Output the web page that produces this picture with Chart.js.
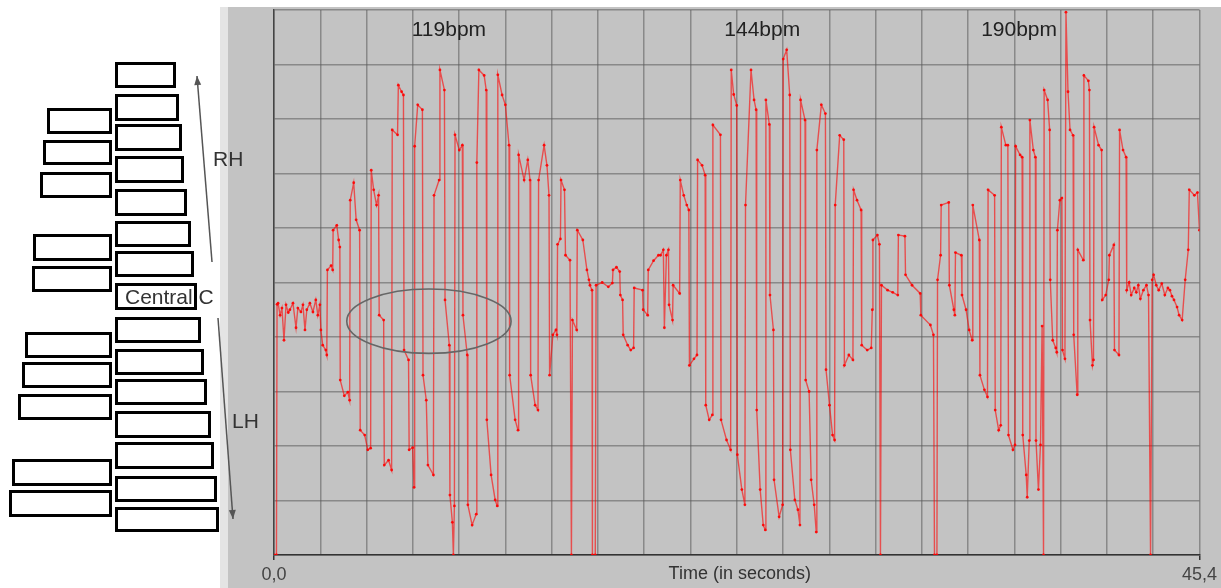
<!DOCTYPE html>
<html><head><meta charset="utf-8">
<script src="https://cdn.jsdelivr.net/npm/chart.js@4.4.0/dist/chart.umd.min.js"></script>
<style>html,body{margin:0;padding:0;background:#fff;overflow:hidden}#wrap{width:1221px;height:588px;position:relative}</style>
</head><body><div id="wrap"><canvas id="c" width="1221" height="588"></canvas></div>
<script>
// ---- axis / labels ----
const X_MIN = 0, X_MAX = 45.4, X_STEP = 2.27;
const Y_MIN = 0, Y_MAX = 10, Y_STEP = 1;
const xTickLabels = ['0,0', '45,4'];
const xTitle = 'Time (in seconds)';
const bpmLabels = ['119bpm', '144bpm', '190bpm'];
const bpmLabelTimes = [8.58, 23.95, 36.55];
const handLabels = ['RH', 'Central C', 'LH'];
const circledRegion = { t: 7.60, v: 4.29, dt: 4.03, dv: 0.59 };

// ---- series: [time (s), pitch position] ----
const intro = [[0.00,0.00],[0.12,0.00],[0.15,4.60],[0.20,4.62],[0.30,4.40],[0.39,4.53],[0.49,3.94],[0.59,4.59],[0.70,4.45],[0.78,4.50],[0.93,4.62],[1.08,4.17],[1.17,4.53],[1.32,4.46],[1.42,4.59],[1.52,4.13],[1.61,4.50],[1.76,4.62],[1.91,4.46],[2.05,4.68],[2.15,4.40],[2.25,4.59]];
const bpm119 = [[2.30,4.13],[2.39,3.85],[2.54,3.76],[2.59,3.67],
 [2.62,5.23],[2.80,5.31],[2.88,5.23],
 [2.90,5.96],[3.08,6.05],[3.17,5.78],[3.23,5.65],
 [3.25,3.21],[3.45,2.92],[3.62,2.99],[3.71,2.84],
 [3.74,6.51],[3.91,6.83],[4.03,6.15],[4.20,5.96],
 [4.23,2.29],[4.45,2.20],[4.60,1.93],[4.74,1.96],
 [4.77,7.06],[4.89,6.70],[5.03,6.42],[5.13,6.60],
 [5.16,4.40],[5.38,4.31],
 [5.41,1.65],[5.62,1.74],[5.77,1.56],
 [5.80,7.80],[6.06,7.71],[6.10,8.62],[6.26,8.50],[6.35,8.44],
 [6.38,3.76],[6.60,3.58],
 [6.63,1.93],[6.80,1.97],[6.87,1.24],
 [6.90,7.50],[7.05,8.26],[7.28,8.17],
 [7.31,3.30],[7.47,2.84],[7.55,1.65],[7.82,1.47],
 [7.85,6.60],[8.10,6.88],[8.14,8.90],[8.36,8.53],
 [8.39,4.68],[8.60,3.85],
 [8.63,1.10],[8.75,0.60],[8.80,0.00],[8.85,0.90],
 [8.88,7.71],[9.09,7.43],[9.24,7.52],
 [9.27,4.40],[9.48,3.67],
 [9.51,0.92],[9.72,0.55],[9.92,0.75],
 [9.95,7.20],[10.05,8.90],[10.31,8.80],[10.41,8.53],
 [10.44,2.48],[10.65,1.47],[10.85,1.01],[10.95,0.90],
 [10.98,8.81],[11.19,8.44],[11.35,8.26],[11.53,7.52],
 [11.56,3.30],[11.83,2.48],[11.97,2.29],
 [12.00,7.34],[12.27,6.88],[12.45,7.25],[12.56,6.88],
 [12.59,3.30],[12.81,2.75],[12.95,2.66],
 [12.98,6.88],[13.25,7.52],[13.39,7.15],[13.49,6.60],
 [13.52,3.30],[13.68,4.04],[13.83,4.13],[13.88,4.04],
 [13.91,5.70],[14.05,5.80],[14.08,6.88],[14.25,6.70],[14.30,5.50],[14.52,5.41],
 [14.59,0.00],[14.64,4.31],[14.85,4.13],
 [14.88,5.96],[15.15,5.78],[15.35,5.23],[15.45,5.05],
 [15.50,4.95],[15.60,4.86]];
const interlude1 = [[15.62,0.00],[15.76,0.00],[15.80,4.95],[16.10,5.00],[16.40,4.92],[16.60,4.99],
 [16.63,5.23],[16.80,5.28],[16.96,5.20],
 [16.99,4.77],[17.10,4.68],
 [17.13,4.04],[17.35,3.85],[17.50,3.76],[17.64,3.80],
 [17.67,4.90],[18.08,4.86],
 [18.11,4.50],[18.33,4.40],
 [18.36,5.23],[18.62,5.40],[18.86,5.50],
 [18.96,5.50],[19.10,5.60],[19.15,4.17],[19.25,5.50],[19.35,5.60],
 [19.38,4.59],[19.55,4.31],
 [19.58,4.95],[19.90,4.80]];
const bpm144 = [[19.93,6.88],[20.10,6.60],[20.25,6.42],[20.35,6.33],
 [20.38,3.48],[20.60,3.60],[20.75,3.67],
 [20.78,7.25],[21.00,7.15],[21.15,6.97],
 [21.18,2.75],[21.35,2.48],[21.50,2.57],
 [21.53,7.89],[21.90,7.71],
 [21.93,2.48],[22.20,2.11],[22.40,1.93],
 [22.43,8.90],[22.55,8.45],[22.70,8.25],
 [22.73,1.84],[22.95,1.20],[23.10,0.92],
 [23.13,6.42],[23.40,8.90],[23.55,8.35],[23.65,8.17],
 [23.68,2.66],[23.85,1.20],[24.00,0.55],[24.10,0.46],
 [24.13,8.35],[24.30,7.90],
 [24.33,4.77],[24.50,4.13],
 [24.53,1.38],[24.78,0.70],[24.95,0.92],
 [24.98,9.10],[25.15,9.27],[25.30,8.44],
 [25.33,1.93],[25.55,1.01],[25.70,0.83],[25.80,0.55],
 [25.83,8.35],[26.05,7.98],
 [26.08,3.21],[26.25,3.00],[26.35,1.38],[26.50,0.92],[26.60,0.42],
 [26.63,7.43],[26.85,8.26],[27.05,8.10],
 [27.08,3.40],[27.25,2.75],[27.40,2.20],[27.50,2.11],
 [27.53,6.42],[27.75,7.70],[27.95,7.62],
 [27.98,3.48],[28.20,3.67],[28.40,3.58],
 [28.43,6.70],[28.60,6.51],[28.80,6.33],
 [28.83,3.85],[29.10,3.76],[29.30,3.80],[29.35,4.50],
 [29.38,5.78],[29.60,5.87],[29.70,5.70]];
const interlude2 = [[29.75,0.00],[29.80,4.95],[30.10,4.86],[30.35,4.82],[30.60,4.77],
 [30.63,5.87],[30.95,5.85],
 [30.98,5.14],[31.30,4.95],[31.70,4.80],
 [31.73,4.40],[32.20,4.22],[32.35,4.04],
 [32.40,0.00],[32.52,0.00],[32.55,5.05],[32.70,5.50],
 [32.73,6.42],[33.10,6.47],
 [33.13,4.95],[33.35,4.50],[33.40,4.40],
 [33.43,5.55],[33.72,5.50],
 [33.75,4.77],[33.95,4.50],[34.10,4.13],[34.25,3.94]];
const bpm190 = [[34.28,6.42],[34.60,5.78],
 [34.63,3.30],[34.85,3.03],[35.00,2.90],
 [35.03,6.70],[35.35,6.60],
 [35.38,2.66],[35.55,2.29],[35.65,2.38],
 [35.68,7.85],[35.90,7.52],[36.00,7.52],
 [36.03,2.20],[36.25,1.93],[36.35,2.02],
 [36.38,7.50],[36.60,7.34],[36.70,7.30],
 [36.73,2.20],[36.90,1.47],[36.95,1.06],[37.05,2.10],
 [37.08,7.98],[37.25,7.43],[37.35,7.30],
 [37.38,2.10],[37.50,1.20],[37.60,2.02],[37.68,4.20],[37.75,0.00],
 [37.78,8.53],[37.95,8.35],[38.05,7.80],
 [38.08,5.05],[38.20,3.94],[38.35,3.80],[38.40,3.72],
 [38.43,5.96],[38.55,6.51],[38.65,6.55],
 [38.68,3.76],[38.80,3.60],
 [38.85,9.96],[38.95,8.50],[39.05,7.80],[39.20,7.70],
 [39.23,4.04],[39.40,2.94],
 [39.43,5.60],[39.70,5.41],
 [39.73,8.80],[39.95,8.70],[40.00,8.53],
 [40.03,4.31],[40.15,3.48],[40.20,3.58],
 [40.23,7.85],[40.45,7.52],[40.60,7.43],
 [40.63,4.68],[40.80,4.77],[40.95,5.05],
 [40.98,5.50],[41.20,5.69],
 [41.23,3.76],[41.45,3.67],
 [41.48,7.80],[41.65,7.43],[41.80,7.30]];
const outro = [[41.83,4.86],[41.95,5.00],[42.05,4.77],[42.20,4.90],[42.30,4.82],[42.40,4.95],[42.50,4.70],
 [42.65,4.86],[42.80,4.95],[42.90,4.77],
 [43.00,0.00],[43.08,5.05],
 [43.15,5.14],[43.28,4.95],[43.40,4.86],[43.55,4.98],[43.70,4.77],[43.85,4.90],[43.95,4.86],[44.05,4.75],[44.15,4.68],
 [44.30,4.55],[44.40,4.40],[44.55,4.31],
 [44.70,5.05],[44.85,5.60],
 [44.90,6.70],[45.15,6.60],[45.30,6.65],[45.40,5.96]];

const segments = [intro, bpm119, interlude1, bpm144, interlude2, bpm190, outro];
const points = [];
segments.forEach(seg => seg.forEach(([t, v]) => points.push({ x: t, y: v })));

const FONT = "'Liberation Sans', Arial, Helvetica, sans-serif";
Chart.defaults.font.family = FONT;

const KEYS_RIGHT = [[115,62,176,88],[115,94,179,121],[115,124,182,151],[115,156,184,183],[115,189,187,216],[115,221,191,247],[115,251,194,277],[115,283,197,310],[115,317,201,343],[115,349,204,375],[115,379,207,405],[115,411,211,438],[115,442,214,469],[115,476,217,502],[115,507,219,532]];
const KEYS_LEFT = [[47,108,112,134],[43,140,112,165],[40,172,112,198],[33,234,112,261],[32,266,112,292],[25,332,112,358],[22,362,112,388],[18,394,112,420],[12,459,112,486],[9,490,112,517]];

function arrow(ctx, x1, y1, x2, y2) {
  ctx.beginPath(); ctx.moveTo(x1, y1); ctx.lineTo(x2, y2); ctx.stroke();
  const a = Math.atan2(y2 - y1, x2 - x1), L = 9, W = 3.5;
  ctx.beginPath();
  ctx.moveTo(x2, y2);
  ctx.lineTo(x2 - L * Math.cos(a) + W * Math.sin(a), y2 - L * Math.sin(a) - W * Math.cos(a));
  ctx.lineTo(x2 - L * Math.cos(a) - W * Math.sin(a), y2 - L * Math.sin(a) + W * Math.cos(a));
  ctx.closePath(); ctx.fill();
}

const decor = {
  id: 'decor',
  beforeDraw(chart) {
    const ctx = chart.ctx;
    ctx.save();
    ctx.fillStyle = '#ffffff'; ctx.fillRect(0, 0, 1221, 588);
    ctx.fillStyle = '#e4e4e4'; ctx.fillRect(220, 7, 8, 581);
    ctx.fillStyle = '#c3c3c3'; ctx.fillRect(228, 7, 993, 581);
    ctx.lineWidth = 3; ctx.strokeStyle = '#000';
    for (const [x1, y1, x2, y2] of KEYS_LEFT.concat(KEYS_RIGHT)) {
      ctx.fillStyle = '#fff'; ctx.fillRect(x1, y1, x2 - x1, y2 - y1);
      ctx.strokeRect(x1 + 1.5, y1 + 1.5, x2 - x1 - 3, y2 - y1 - 3);
    }
    ctx.strokeStyle = '#555'; ctx.fillStyle = '#555'; ctx.lineWidth = 1.5;
    arrow(ctx, 212, 262, 197, 76);
    arrow(ctx, 218, 318, 233, 519);
    ctx.fillStyle = '#333'; ctx.font = '21px ' + FONT; ctx.textBaseline = 'alphabetic'; ctx.textAlign = 'left';
    ctx.fillText(handLabels[0], 213, 166);
    ctx.fillText(handLabels[1], 125, 304);
    ctx.fillText(handLabels[2], 232, 428);
    ctx.restore();
  },
  afterDatasetsDraw(chart) {
    const ctx = chart.ctx, xs = chart.scales.x, ys = chart.scales.y, ca = chart.chartArea;
    ctx.save();
    const cx = xs.getPixelForValue(circledRegion.t), cy = ys.getPixelForValue(circledRegion.v);
    const rx = xs.getPixelForValue(circledRegion.t + circledRegion.dt) - cx;
    const ry = cy - ys.getPixelForValue(circledRegion.v + circledRegion.dv);
    ctx.strokeStyle = '#666'; ctx.lineWidth = 1.6;
    ctx.beginPath(); ctx.ellipse(cx, cy, rx, ry, 0, 0, Math.PI * 2); ctx.stroke();
    ctx.fillStyle = '#222'; ctx.font = '21px ' + FONT; ctx.textAlign = 'center'; ctx.textBaseline = 'alphabetic';
    bpmLabels.forEach((s, i) => ctx.fillText(s, xs.getPixelForValue(bpmLabelTimes[i]), ca.top + 26));
    ctx.fillStyle = '#333'; ctx.font = '18px ' + FONT;
    ctx.fillText(xTitle, (ca.left + ca.right) / 2 + 3, ca.bottom + 24);
    ctx.restore();
  }
};

new Chart(document.getElementById('c'), {
  type: 'line',
  data: { datasets: [{
    data: points,
    borderColor: 'rgba(255,0,0,0.6)', borderWidth: 1.4,
    pointRadius: 1.4, pointBackgroundColor: 'rgba(255,0,0,0.9)', pointBorderWidth: 0,
    tension: 0, fill: false
  }]},
  options: {
    responsive: false, animation: false, devicePixelRatio: 1,
    layout: { padding: { left: 274, right: 18, top: 10, bottom: 0 } },
    plugins: { legend: { display: false }, tooltip: { enabled: false } },
    scales: {
      x: {
        type: 'linear', min: X_MIN, max: X_MAX,
        afterFit: s => { s.height = 33; },
        ticks: {
          stepSize: X_STEP, autoSkip: false, maxRotation: 0, padding: 4,
          color: '#444', font: { size: 18 },
          callback: (v, i, ticks) => i === 0 ? xTickLabels[0] : (i === ticks.length - 1 ? xTickLabels[1] : '')
        },
        grid: {
          color: 'rgba(90,90,90,0.55)', lineWidth: 1.5, tickLength: 5,
          tickColor: ctx => (ctx.index === 0 || ctx.index === 20) ? '#333' : 'rgba(0,0,0,0)'
        },
        border: { color: '#333', width: 1.5 }
      },
      y: {
        type: 'linear', min: Y_MIN, max: Y_MAX,
        afterFit: s => { s.width = 0; },
        ticks: { stepSize: Y_STEP, display: false },
        grid: { color: 'rgba(90,90,90,0.55)', lineWidth: 1.5, drawTicks: false },
        border: { color: '#444', width: 1.5 }
      }
    }
  },
  plugins: [decor]
});
</script>
</body></html>
